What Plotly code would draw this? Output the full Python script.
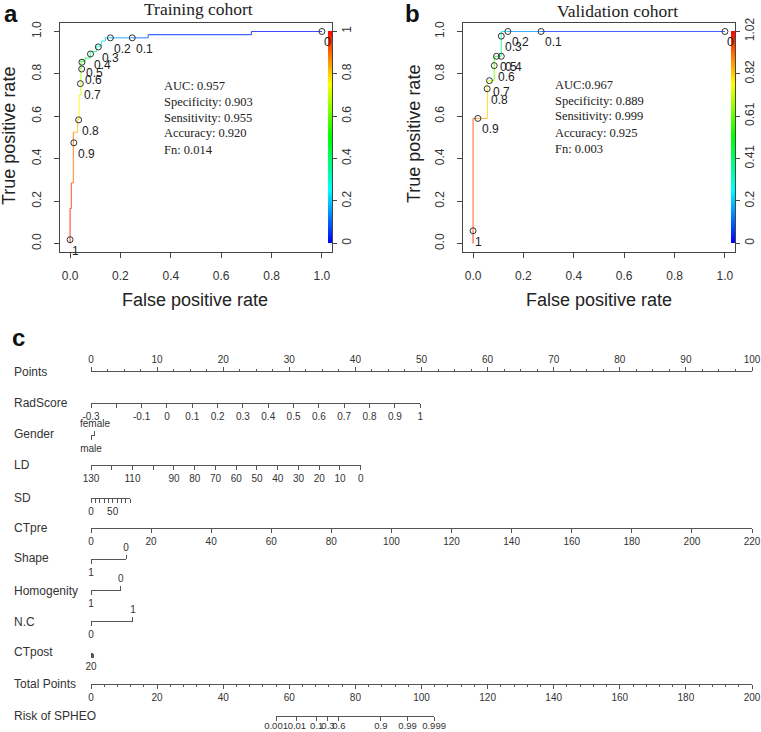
import plotly.graph_objects as go

W, H = 761, 732

# ---------------- ROC data ----------------
train_fpr = [0.000, 0.000, 0.005, 0.005, 0.013, 0.013, 0.030, 0.030, 0.036, 0.036, 0.043, 0.043, 0.043, 0.043,
             0.060, 0.060, 0.080, 0.080, 0.105, 0.105, 0.125, 0.125, 0.140, 0.140, 0.160, 0.247, 0.310, 0.310,
             0.720, 0.720, 1.000]
train_tpr = [0.000, 0.165, 0.165, 0.286, 0.286, 0.525, 0.525, 0.585, 0.585, 0.700, 0.700, 0.754, 0.823, 0.860,
             0.860, 0.875, 0.875, 0.905, 0.905, 0.930, 0.930, 0.955, 0.955, 0.970, 0.970, 0.970, 0.970, 0.985,
             0.985, 1.000, 1.000]
train_cut = [1.00, 0.97, 0.96, 0.94, 0.93, 0.86, 0.82, 0.80, 0.79, 0.73, 0.71, 0.70, 0.60, 0.50,
             0.47, 0.45, 0.42, 0.38, 0.34, 0.30, 0.27, 0.24, 0.22, 0.20, 0.20, 0.10, 0.09, 0.07,
             0.03, 0.02, 0.00]
train_mark_fpr = [0.000, 0.015, 0.034, 0.041, 0.046, 0.047, 0.081, 0.112, 0.160, 0.247, 1.000]
train_mark_tpr = [0.018, 0.475, 0.583, 0.754, 0.823, 0.855, 0.894, 0.927, 0.970, 0.970, 1.000]
train_mark_lab = ['1', '0.9', '0.8', '0.7', '0.6', '0.5', '0.4', '0.3', '0.2', '0.1', '0']
train_stats = ['AUC: 0.957', 'Specificity: 0.903', 'Sensitivity: 0.955', 'Accuracy: 0.920', 'Fn: 0.014']
train_cb_vals = [0, 0.2, 0.4, 0.6, 0.8, 1.0]
train_cb_text = ['0', '0.2', '0.4', '0.6', '0.8', '1']
train_cmax = 1.0

val_fpr = [0.000, 0.000, 0.000, 0.019, 0.057, 0.057, 0.057, 0.065, 0.084, 0.084, 0.084, 0.093, 0.112, 0.112,
           0.112, 0.138, 0.270, 1.000]
val_tpr = [0.000, 0.060, 0.590, 0.590, 0.590, 0.730, 0.768, 0.768, 0.768, 0.839, 0.883, 0.883, 0.883, 0.978,
           1.000, 1.000, 1.000, 1.000]
val_cut = [1.02, 1.00, 0.90, 0.90, 0.82, 0.80, 0.72, 0.70, 0.65, 0.60, 0.55, 0.50, 0.40, 0.30,
           0.25, 0.20, 0.10, 0.00]
val_mark_fpr = [0.000, 0.019, 0.056, 0.065, 0.084, 0.093, 0.112, 0.112, 0.138, 0.270, 1.000]
val_mark_tpr = [0.060, 0.590, 0.730, 0.768, 0.839, 0.883, 0.883, 0.978, 1.000, 1.000, 1.000]
val_mark_lab = ['1', '0.9', '0.8', '0.7', '0.6', '0.5', '0.4', '0.3', '0.2', '0.1', '0']
val_stats = ['AUC:0.967', 'Specificity: 0.889', 'Sensitivity: 0.999', 'Accuracy: 0.925', 'Fn: 0.003']
val_cb_vals = [0, 0.204, 0.408, 0.612, 0.816, 1.02]
val_cb_text = ['0', '0.2', '0.41', '0.61', '0.82', '1.02']
val_cmax = 1.02

roc_ticks = [0, 0.2, 0.4, 0.6, 0.8, 1.0]
roc_ticktext = ['0.0', '0.2', '0.4', '0.6', '0.8', '1.0']

# ---------------- Nomogram data ----------------
points_ticks = [0, 10, 20, 30, 40, 50, 60, 70, 80, 90, 100]
points_minor = [v * 2.5 for v in range(41) if v % 4 != 0]
radscore_ticks = [-0.3, -0.2, -0.1, 0, 0.1, 0.2, 0.3, 0.4, 0.5, 0.6, 0.7, 0.8, 0.9, 1.0]
radscore_labels = ['-0.3', '', '-0.1', '0', '0.1', '0.2', '0.3', '0.4', '0.5', '0.6', '0.7', '0.8', '0.9', '1']
radscore_points = [0, 49.8]
gender_levels = ['male', 'female']
gender_points = [0, 0.6]
ld_ticks = [130, 120, 110, 100, 90, 80, 70, 60, 50, 40, 30, 20, 10, 0]
ld_labels = ['130', '', '110', '', '90', '80', '70', '60', '50', '40', '30', '20', '10', '0']
ld_points = [0, 40.8]
sd_ticks = [0, 10, 20, 30, 40, 50, 60, 70, 80, 90]
sd_labels = ['0', '', '', '', '', '50', '', '', '', '']
sd_points = [0, 5.9]
ctpre_ticks = [0, 20, 40, 60, 80, 100, 120, 140, 160, 180, 200, 220]
ctpre_points = [0, 100]
shape_levels = ['1', '0']
shape_points = [0, 5.3]
homog_levels = ['1', '0']
homog_points = [0, 4.5]
nc_levels = ['0', '1']
nc_points = [0, 6.35]
ctpost_ticks = [20, 40, 60, 80, 100, 120, 140, 160, 180, 200]
ctpost_labels = ['20', '', '', '', '', '', '', '', '', '']
ctpost_points = [0, 0.35]
total_ticks = [0, 20, 40, 60, 80, 100, 120, 140, 160, 180, 200]
total_minor = [v for v in range(0, 201, 4) if v % 20 != 0]
risk_labels = ['0.001', '0.01', '0.1', '0.3', '0.6', '0.9', '0.99', '0.999']
risk_total_points = [56.0, 62.3, 68.3, 71.7, 75.0, 87.7, 95.8, 103.8]

row_names = ['Points', 'RadScore', 'Gender', 'LD', 'SD', 'CTpre', 'Shape', 'Homogenity', 'N.C', 'CTpost',
             'Total Points', 'Risk of SPHEO']

# ---------------- helpers ----------------
RAINBOW = [[0, 'rgb(0,0,255)'], [0.25, 'rgb(0,255,255)'], [0.5, 'rgb(0,255,0)'],
           [0.75, 'rgb(255,255,0)'], [1, 'rgb(255,0,0)']]


def rainbow(v):
    v = min(max(v, 0.0), 1.0)
    stops = [(0, (0, 0, 255)), (0.25, (0, 255, 255)), (0.5, (0, 255, 0)), (0.75, (255, 255, 0)), (1, (255, 0, 0))]
    for (a, ca), (b, cb) in zip(stops[:-1], stops[1:]):
        if v <= b:
            t = (v - a) / (b - a)
            return 'rgb(%d,%d,%d)' % tuple(round(ca[i] + (cb[i] - ca[i]) * t) for i in range(3))
    return 'rgb(255,0,0)'


def px_x(p):
    return p / W


def px_y(p):
    return 1 - p / H


fig = go.Figure()
ann = []

TXT = '#333333'
LINE = '#444444'


def label_shift(t):
    w = sum(6.67 if ch.isdigit() else 3.33 for ch in t)
    return 0.2 * w - 1.5


def add_roc(fpr, tpr, cut, cmax, mfpr, mtpr, mlab, xa, ya, cb_x, cb_vals, cb_text):
    for i in range(len(fpr) - 1):
        c = rainbow(((cut[i] + cut[i + 1]) / 2) / cmax)
        fig.add_trace(go.Scatter(x=[fpr[i], fpr[i + 1]], y=[tpr[i], tpr[i + 1]], mode='lines',
                                 line=dict(color=c, width=1.1), opacity=0.75, xaxis=xa, yaxis=ya,
                                 hoverinfo='skip', showlegend=False))
    fig.add_trace(go.Scatter(x=mfpr, y=mtpr, mode='markers', xaxis=xa, yaxis=ya,
                             marker=dict(symbol='circle-open', size=6, color='#333333', line=dict(width=1)),
                             hoverinfo='skip', showlegend=False))
    # colour key for the cutoffs
    cbar = dict(x=cb_x, xanchor='left', y=px_y(243.3), yanchor='bottom',
                len=211.6, lenmode='pixels', thickness=3.5,
                thicknessmode='pixels', xpad=0, ypad=0, outlinewidth=0,
                ticks='outside', ticklen=5, tickcolor=LINE,
                tickmode='array', tickvals=cb_vals, ticktext=cb_text,
                tickangle=-90,
                tickfont=dict(family='Arial', size=12, color=TXT))
    fig.add_trace(go.Scatter(x=fpr, y=tpr, mode='markers', xaxis=xa, yaxis=ya, hoverinfo='skip',
                             showlegend=False,
                             marker=dict(size=1, opacity=0, color=cut, colorscale=RAINBOW, cmin=0, cmax=cmax,
                                         showscale=True, colorbar=cbar)))
    for xv, yv, t in zip(mfpr, mtpr, mlab):
        ann.append(dict(x=xv, y=yv, xref=xa, yref=ya, text=t, showarrow=False, xanchor='left',
                        yanchor='middle', xshift=label_shift(t), yshift=-11,
                        font=dict(family='Arial', size=12, color='#222222')))


add_roc(train_fpr, train_tpr, train_cut, train_cmax, train_mark_fpr, train_mark_tpr, train_mark_lab,
        'x', 'y', px_x(327.5), train_cb_vals, train_cb_text)
add_roc(val_fpr, val_tpr, val_cut, val_cmax, val_mark_fpr, val_mark_tpr, val_mark_lab,
        'x2', 'y2', px_x(731), val_cb_vals, val_cb_text)

roc_ax = dict(showline=True, linecolor=LINE, linewidth=1, mirror=True, ticks='outside', ticklen=5,
              tickcolor=LINE, tickwidth=1, showgrid=False, zeroline=False, range=[-0.04, 1.04],
              tickmode='array', tickvals=roc_ticks, ticktext=roc_ticktext,
              tickfont=dict(family='Arial', size=12, color=TXT), fixedrange=True)

layout = dict(
    width=W, height=H, autosize=False, margin=dict(l=0, r=0, t=0, b=0, pad=0, autoexpand=False),
    paper_bgcolor='white', plot_bgcolor='rgba(0,0,0,0)', showlegend=False,
    xaxis=dict(domain=[px_x(60), px_x(332)], anchor='y', ticklabelstandoff=8, tickangle=0, **roc_ax),
    yaxis=dict(domain=[px_y(252), px_y(23)], anchor='x', tickangle=-90, ticklabelstandoff=8, **roc_ax),
    xaxis2=dict(domain=[px_x(463), px_x(735)], anchor='y2', ticklabelstandoff=8, tickangle=0, **roc_ax),
    yaxis2=dict(domain=[px_y(252), px_y(23)], anchor='x2', tickangle=-90, ticklabelstandoff=8, **roc_ax),
    yaxis3=dict(domain=[0, 0.01], range=[-1, 1], anchor='free', position=0, visible=False, fixedrange=True),
)

# ---------------- nomogram axes ----------------
P0, P1 = 91.0, 752.0


def pts_px(p):
    return P0 + p * (P1 - P0) / 100.0


ax_counter = [3]


def nomo_axis(x0, x1, rng, ypx, side, tickvals, ticktext, showline=True, minor=None, ticklen=4, standoff=0,
              fsize=10):
    n = ax_counter[0]
    ax_counter[0] += 1
    d = dict(domain=[px_x(x0), px_x(x1)], range=rng, anchor='free', position=px_y(ypx), side=side,
             showline=showline, linecolor='#555555', linewidth=1, ticks='outside', ticklen=ticklen,
             tickcolor='#555555', tickwidth=1, tickmode='array', tickvals=tickvals, ticktext=ticktext,
             showgrid=False, zeroline=False, fixedrange=True, ticklabeloverflow='allow',
             ticklabelstandoff=standoff, tickangle=0,
             tickfont=dict(family='Arial', size=fsize, color=TXT))
    if minor is not None:
        d['minor'] = dict(tickmode='array', tickvals=minor, ticks='outside', ticklen=2,
                          tickcolor='#555555', tickwidth=1, showgrid=False)
    layout['xaxis%d' % n] = d
    # the scale values of this row, placed on its own axis
    fig.add_trace(go.Scatter(x=tickvals, y=[0] * len(tickvals), xaxis='x%d' % n, yaxis='y3',
                             mode='markers', marker=dict(size=1, opacity=0), hoverinfo='skip',
                             showlegend=False))


def two_level(points, levels, ypx):
    x0, x1 = pts_px(points[0]), pts_px(points[1])
    nomo_axis(x0, x1, [0, 1], ypx, 'bottom', [0], [levels[0]])
    nomo_axis(x0, x1, [0, 1], ypx, 'top', [1], [levels[1]], showline=False)


row_line_y = [371, 402.5, 434.5, 465, 498, 527.5, 559, 590, 621, 652.5, 684.3, 716]

nomo_axis(P0, P1, [0, 100], row_line_y[0], 'top', points_ticks, [str(v) for v in points_ticks],
          minor=points_minor)
nomo_axis(pts_px(radscore_points[0]), pts_px(radscore_points[1]), [radscore_ticks[0], radscore_ticks[-1]],
          row_line_y[1], 'bottom', radscore_ticks, radscore_labels)
two_level(gender_points, gender_levels, row_line_y[2])
nomo_axis(pts_px(ld_points[0]), pts_px(ld_points[1]), [ld_ticks[0], ld_ticks[-1]], row_line_y[3], 'bottom',
          ld_ticks, ld_labels)
nomo_axis(pts_px(sd_points[0]), pts_px(sd_points[1]), [sd_ticks[0], sd_ticks[-1]], row_line_y[4], 'bottom',
          sd_ticks, sd_labels)
nomo_axis(pts_px(ctpre_points[0]), pts_px(ctpre_points[1]), [ctpre_ticks[0], ctpre_ticks[-1]], row_line_y[5],
          'bottom', ctpre_ticks, [str(v) for v in ctpre_ticks])
two_level(shape_points, shape_levels, row_line_y[6])
two_level(homog_points, homog_levels, row_line_y[7])
two_level(nc_points, nc_levels, row_line_y[8])
nomo_axis(pts_px(ctpost_points[0]), pts_px(ctpost_points[1]), [ctpost_ticks[0], ctpost_ticks[-1]],
          row_line_y[9], 'bottom', ctpost_ticks, ctpost_labels)
nomo_axis(P0, P1, [0, 200], row_line_y[10], 'bottom', total_ticks, [str(v) for v in total_ticks],
          minor=total_minor)
TP = (P1 - P0) / 200.0
nomo_axis(P0 + risk_total_points[0] * TP, P0 + risk_total_points[-1] * TP,
          [risk_total_points[0], risk_total_points[-1]], row_line_y[11], 'bottom', risk_total_points, risk_labels,
          standoff=-3, fsize=9.5)

# ---------------- text ----------------
row_label_y = [371.5, 403, 434, 465, 498, 527.5, 558, 590.5, 621.5, 652, 684, 716]
for name, yv in zip(row_names, row_label_y):
    ann.append(dict(x=px_x(12), y=px_y(yv), xref='paper', yref='paper', text=name, showarrow=False,
                    xanchor='left', yanchor='middle', font=dict(family='Arial', size=12, color=TXT)))

for stats, x0, ys in [(train_stats, 162, [86, 101.5, 117.5, 133.5, 150]),
                      (val_stats, 553, [84.5, 100.5, 116.5, 132.5, 149])]:
    for s, yv in zip(stats, ys):
        ann.append(dict(x=px_x(x0), y=px_y(yv), xref='paper', yref='paper', text=s, showarrow=False,
                        xanchor='left', yanchor='middle',
                        font=dict(family='Liberation Serif', size=12.5, color='#222222')))

for t, xv, yv in [('Training cohort', 198, 8.5), ('Validation cohort', 617, 10.5)]:
    ann.append(dict(x=px_x(xv), y=px_y(yv), xref='paper', yref='paper', text=t, showarrow=False,
                    xanchor='center', yanchor='middle',
                    font=dict(family='Liberation Serif', size=17.5, color='#222222')))

for t, xv, yv in [('False positive rate', 195, 300), ('False positive rate', 599, 300)]:
    ann.append(dict(x=px_x(xv), y=px_y(yv), xref='paper', yref='paper', text=t, showarrow=False,
                    xanchor='center', yanchor='middle', font=dict(family='Arial', size=18, color='#222222')))
for t, xv, yv in [('True positive rate', 9, 136), ('True positive rate', 414, 134)]:
    ann.append(dict(x=px_x(xv), y=px_y(yv), xref='paper', yref='paper', text=t, showarrow=False,
                    textangle=-90, xanchor='center', yanchor='middle',
                    font=dict(family='Arial', size=18, color='#222222')))

for t, xv, yv in [('a', 11, 13.5), ('b', 412, 13.5), ('c', 18, 337)]:
    ann.append(dict(x=px_x(xv), y=px_y(yv), xref='paper', yref='paper', text='<b>%s</b>' % t,
                    showarrow=False, xanchor='center', yanchor='middle',
                    font=dict(family='Arial', size=24, color='#111111')))

layout['annotations'] = ann
fig.update_layout(**layout)
fig.write_html('out.html', config={'displayModeBar': False},
               post_script="document.body.style.margin='0';document.body.style.padding='0';"
                           "document.documentElement.style.overflow='hidden';")
